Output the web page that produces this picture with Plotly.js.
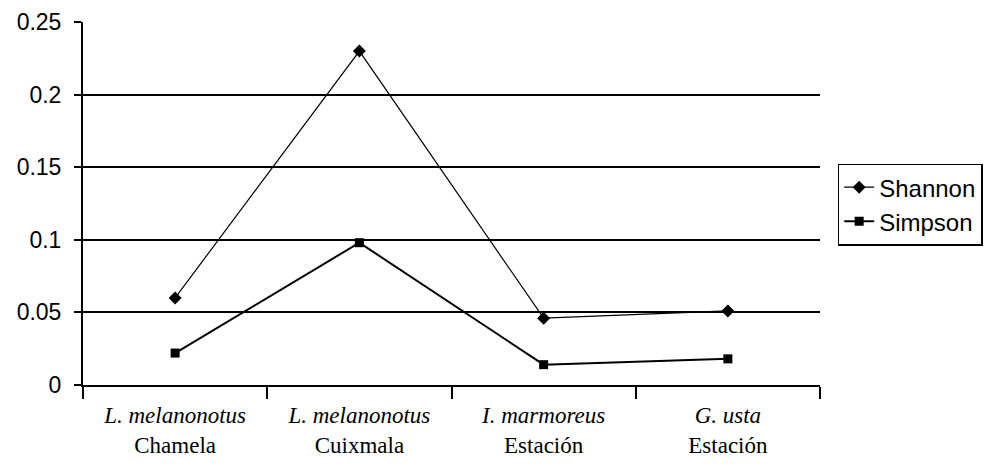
<!DOCTYPE html>
<html>
<head>
<meta charset="utf-8">
<script src="https://cdn.plot.ly/plotly-3.0.1.min.js"></script>
<style>
  html, body { margin: 0; padding: 0; background: #ffffff; }
  #chart { width: 1003px; height: 468px; }
</style>
</head>
<body>
<div id="chart"></div>
<script>
// Diversity indices per species / site
const species = ["L. melanonotus", "L. melanonotus", "I. marmoreus", "G. usta"];
const sites = ["Chamela", "Cuixmala", "Estación", "Estación"];
const shannon = [0.060, 0.230, 0.046, 0.051];
const simpson = [0.022, 0.098, 0.014, 0.018];
const yTicks = [0, 0.05, 0.1, 0.15, 0.2, 0.25];
const yTickText = ["0", "0.05", "0.1", "0.15", "0.2", "0.25"];

// Two-line category labels: italic species name over the site name
const categories = species.map((s, i) => "<i>" + s + "</i><br>" + sites[i]);

const sansFont = { family: "Liberation Sans, Arial, sans-serif", size: 23, color: "#000000" };
const legendFont = { family: "Liberation Sans, Arial, sans-serif", size: 24, color: "#000000" };
const serifFont = { family: "Liberation Serif, Times New Roman, serif", size: 23, color: "#000000" };

const traces = [
  {
    x: categories,
    y: shannon,
    name: "Shannon",
    type: "scatter",
    mode: "lines+markers",
    line: { color: "#000000", width: 1.2 },
    marker: { symbol: "diamond", size: 10, color: "#000000" }
  },
  {
    x: categories,
    y: simpson,
    name: "Simpson",
    type: "scatter",
    mode: "lines+markers",
    line: { color: "#000000", width: 2 },
    marker: { symbol: "square", size: 9, color: "#000000" }
  }
];

const layout = {
  width: 1003,
  height: 468,
  margin: { l: 83, r: 183, t: 22, b: 83 },
  paper_bgcolor: "#ffffff",
  plot_bgcolor: "#ffffff",
  showlegend: true,
  legend: {
    x: 1.024,
    y: 0.61,
    xanchor: "left",
    yanchor: "top",
    bordercolor: "#000000",
    borderwidth: 1.5,
    bgcolor: "#ffffff",
    font: legendFont,
    tracegroupgap: 0
  },
  xaxis: {
    type: "category",
    range: [-0.5, 3.5],
    showline: true,
    linecolor: "#000000",
    linewidth: 2,
    showgrid: false,
    ticks: "outside",
    tickson: "boundaries",
    ticklen: 12,
    tickwidth: 2,
    tickcolor: "#000000",
    tickfont: serifFont,
    ticklabelstandoff: 8,
    zeroline: false,
    fixedrange: true
  },
  yaxis: {
    range: [0, 0.25],
    tickvals: yTicks,
    ticktext: yTickText,
    showline: true,
    linecolor: "#000000",
    linewidth: 2,
    showgrid: true,
    gridcolor: "#000000",
    gridwidth: 2,
    ticks: "outside",
    ticklen: 7,
    tickwidth: 2,
    tickcolor: "#000000",
    tickfont: sansFont,
    ticklabelstandoff: 8,
    zeroline: false,
    fixedrange: true
  }
};

Plotly.newPlot("chart", traces, layout, { staticPlot: true, displayModeBar: false });
</script>
</body>
</html>
